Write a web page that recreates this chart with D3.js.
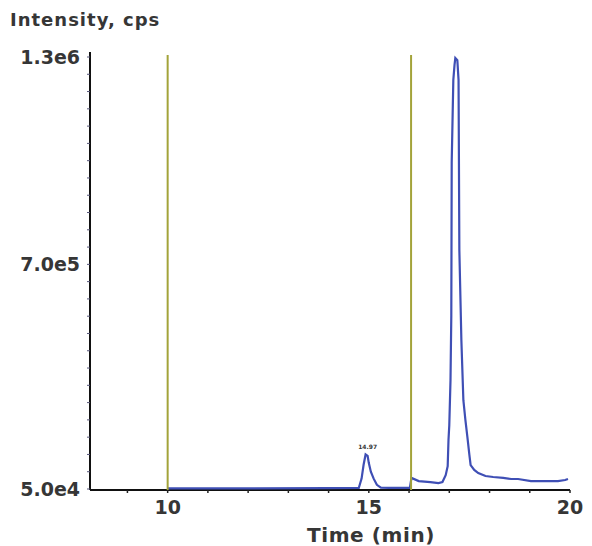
<!DOCTYPE html>
<html>
<head>
<meta charset="utf-8">
<script src="https://cdn.jsdelivr.net/npm/d3@7"></script>
<style>
  body { margin: 0; background: #fff; }
  text { font-family: 'DejaVu Sans', Verdana, sans-serif; fill: #363636; font-weight: bold; }
</style>
</head>
<body>
<div id="chart"></div>
<script>
const width = 592;
const height = 546;

// chromatogram, time in minutes and intensity in cps
const times = [10.0, 12.0, 14.0, 14.75, 14.82, 14.87, 14.92, 14.97, 15.0, 15.05, 15.12, 15.2, 15.3, 15.5, 16.02,
  16.06, 16.24, 16.53, 16.73, 16.83, 16.91, 16.96, 16.98, 17.0, 17.03, 17.05, 17.06, 17.1, 17.13, 17.15,
  17.2, 17.23, 17.25, 17.3, 17.35, 17.4, 17.45, 17.5, 17.53, 17.62, 17.72, 17.9, 18.09, 18.34, 18.54,
  18.71, 19.03, 19.33, 19.7, 19.88, 19.95];
const intensity = [52000, 52000, 52500, 53000, 80000, 120000, 150000, 146000, 125000, 100000, 80000, 62000, 54000, 53000, 53000,
  82000, 73000, 70000, 67000, 70000, 90000, 116000, 192000, 235000, 365000, 553000, 996000, 1233000, 1277000, 1297000,
  1291000, 1233000, 741000, 481000, 307000, 250000, 200000, 148000, 119000, 105000, 96000, 87600, 84700, 82000, 79000,
  79000, 73000, 73000, 73000, 76000, 79000];

const markerTimes = [10, 16.05];
const xTickValues = [9, 10, 11, 12, 13, 14, 15, 16, 17, 18, 19, 20];
const xTickLabels = [10, 15, 20];
const yTickLabels = [5.0e4, 7.0e5, 1.3e6];
const peakLabel = { time: 14.97, value: 150000, text: '14.97' };

const x = d3.scaleLinear().domain([8.07, 20]).range([90, 570]);
const y = d3.scaleLinear().domain([5.0e4, 1.3e6]).range([489, 57]);

const svg = d3.select('#chart')
  .append('svg')
  .attr('width', width)
  .attr('height', height);

// y axis
svg.append('line')
  .attr('x1', 90).attr('x2', 90)
  .attr('y1', 52).attr('y2', 490)
  .attr('stroke', '#111').attr('stroke-width', 2);

svg.selectAll('.ytick')
  .data(d3.range(5.0e4, 1.3e6 + 1, 5.0e4))
  .enter()
  .append('line')
  .attr('x1', 87).attr('x2', 90)
  .attr('y1', function(d) { return y(d); })
  .attr('y2', function(d) { return y(d); })
  .attr('stroke', '#557')
  .attr('stroke-width', 1);

svg.selectAll('.ylabel')
  .data(yTickLabels)
  .enter()
  .append('text')
  .attr('x', 80)
  .attr('y', function(d) { return y(d) + 7; })
  .attr('text-anchor', 'end')
  .style('font-size', '19px')
  .text(function(d) { return d3.format('.1e')(d).replace('+', ''); });

// x axis
svg.append('line')
  .attr('x1', 90).attr('x2', 570)
  .attr('y1', 490).attr('y2', 490)
  .attr('stroke', '#111').attr('stroke-width', 2);

svg.selectAll('.xtick')
  .data(xTickValues)
  .enter()
  .append('line')
  .attr('x1', function(d) { return x(d); })
  .attr('x2', function(d) { return x(d); })
  .attr('y1', 490).attr('y2', 493)
  .attr('stroke', '#222')
  .attr('stroke-width', 1.5);

svg.selectAll('.xlabel')
  .data(xTickLabels)
  .enter()
  .append('text')
  .attr('x', function(d) { return x(d); })
  .attr('y', 514)
  .attr('text-anchor', 'middle')
  .style('font-size', '19px')
  .text(function(d) { return d; });

// titles
svg.append('text')
  .attr('x', 10).attr('y', 26)
  .style('font-size', '18px')
  .style('letter-spacing', '1px')
  .text('Intensity, cps');

svg.append('text')
  .attr('x', 371).attr('y', 542)
  .attr('text-anchor', 'middle')
  .style('font-size', '20px')
  .style('letter-spacing', '0.6px')
  .text('Time (min)');

// trace
const line = d3.line()
  .x(function(d) { return x(d[0]); })
  .y(function(d) { return y(d[1]); });

svg.append('path')
  .datum(d3.zip(times, intensity))
  .attr('d', line)
  .attr('fill', 'none')
  .attr('stroke', '#3f4fb5')
  .attr('stroke-width', 2.2);

svg.append('text')
  .attr('x', x(peakLabel.time))
  .attr('y', y(peakLabel.value) - 5)
  .attr('text-anchor', 'middle')
  .style('font-size', '6px')
  .text(peakLabel.text);

// integration markers
svg.selectAll('.marker')
  .data(markerTimes)
  .enter()
  .append('line')
  .attr('x1', function(d) { return x(d); })
  .attr('x2', function(d) { return x(d); })
  .attr('y1', 55).attr('y2', 490)
  .attr('stroke', '#a3a33a')
  .attr('stroke-width', 2);
</script>
</body>
</html>
